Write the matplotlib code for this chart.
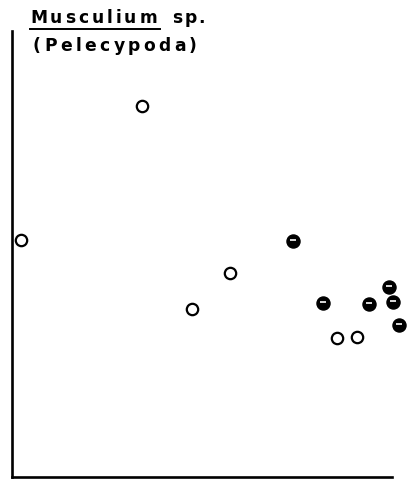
import matplotlib
matplotlib.use("Agg")
import matplotlib.pyplot as plt
import matplotlib.transforms as mtransforms

# Data (arbitrary units)
open_x = [2.4, 34.2, 47.4, 57.4, 85.5, 90.8]
open_y = [53.6, 83.9, 38.0, 46.2, 31.4, 31.7]
filled_x = [73.9, 81.8, 93.9, 99.2, 100.3, 101.8]
filled_y = [53.4, 39.4, 39.1, 43.0, 39.6, 34.4]
title1 = "Musculium sp."
title2 = "(Pelecypoda)"

W, H = 407, 480
fig = plt.figure(figsize=(W/100, H/100), dpi=100)
ax = fig.add_axes([12/W, 3/H, 380/W, 446/H])
ax.set_xlim(0, 100)
ax.set_ylim(0, 100.9)
for s in ["top", "right"]:
    ax.spines[s].set_visible(False)
for s in ["left", "bottom"]:
    ax.spines[s].set_linewidth(1.9)
ax.set_xticks([])
ax.set_yticks([])

ax.plot(open_x, open_y, linestyle="none", marker="o", markersize=8.2,
        markerfacecolor="white", markeredgecolor="black", markeredgewidth=1.6,
        clip_on=False)
ax.plot(filled_x, filled_y, linestyle="none", marker="o", markersize=9.4,
        markerfacecolor="black", markeredgecolor="black", clip_on=False)
off = mtransforms.offset_copy(ax.transData, fig=fig, x=0, y=0.6, units="points")
ax.plot(filled_x, filled_y, linestyle="none", marker="_", markersize=4.8,
        markeredgecolor="white", markeredgewidth=1.2, transform=off, clip_on=False)

renderer = fig.canvas.get_renderer()
FS = 12.3

def spaced(word, x_start, x_end, y0):
    texts = [fig.text(0, 1 - y0 / H, ch, ha="left", va="baseline",
                      fontsize=FS, fontweight="bold", family="DejaVu Sans")
             for ch in word]
    widths = [t.get_window_extent(renderer).width for t in texts]
    gap = (x_end - x_start - sum(widths)) / max(len(word) - 1, 1)
    x = x_start
    for t, w in zip(texts, widths):
        t.set_x(x / W)
        x += w + gap

words1 = title1.split(" ")
spaced(words1[0], 30, 157, 23)
spaced(words1[1], 172, 205, 23)
spaced(title2, 33, 197, 51)
fig.add_artist(plt.Line2D([30/W, 160/W], [1 - 29/H, 1 - 29/H],
                          color="black", linewidth=1.4))

fig.savefig("out.png", dpi=100)
